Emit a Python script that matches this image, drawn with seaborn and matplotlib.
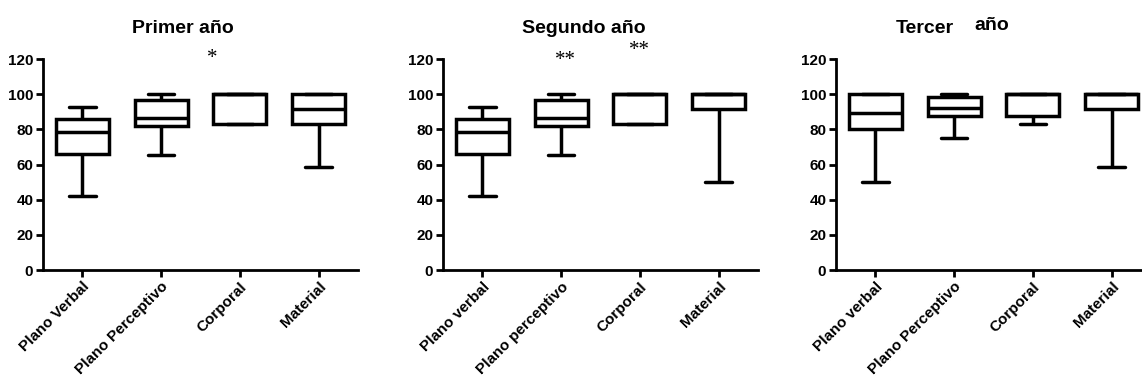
import matplotlib
matplotlib.use("Agg")
import matplotlib.pyplot as plt
import seaborn as sns
import pandas as pd

# Resumen de cinco números por grupo: [mín, Q1, mediana, Q3, máx]
cat_primer = ["Plano Verbal", "Plano Perceptivo", "Corporal", "Material"]
primer_verbal = [42, 66, 78.7, 86, 92.6]
primer_perceptivo = [65.5, 81.8, 86.3, 96.4, 100]
primer_corporal = [83.3, 83.3, 100, 100, 100]
primer_material = [58.3, 83.3, 91.7, 100, 100]

cat_segundo = ["Plano verbal", "Plano perceptivo", "Corporal", "Material"]
segundo_verbal = [42, 66, 78.7, 86, 92.6]
segundo_perceptivo = [65.5, 81.8, 86.3, 96.4, 100]
segundo_corporal = [83.3, 83.3, 100, 100, 100]
segundo_material = [50, 91.7, 100, 100, 100]

cat_tercer = ["Plano verbal", "Plano Perceptivo", "Corporal", "Material"]
tercer_verbal = [50, 80, 89.2, 100, 100]
tercer_perceptivo = [75, 87.5, 92.2, 98.6, 100]
tercer_corporal = [83.3, 87.3, 100, 100, 100]
tercer_material = [58.3, 91.7, 100, 100, 100]

# Asteriscos de significancia: (posición x, valor y, texto)
marcas_primer = [(1.65, 120.5, "*")]
marcas_segundo = [(1.05, 119, "**"), (2.0, 125, "**")]
marcas_tercer = []

sns.set_style("ticks")
plt.rcParams['font.family'] = ['Liberation Sans', 'DejaVu Sans']
plt.rcParams.update({
    "text.color": "black", "axes.edgecolor": "black",
    "xtick.color": "black", "ytick.color": "black",
})

paneles = [
    (cat_primer, [primer_verbal, primer_perceptivo, primer_corporal, primer_material], marcas_primer),
    (cat_segundo, [segundo_verbal, segundo_perceptivo, segundo_corporal, segundo_material], marcas_segundo),
    (cat_tercer, [tercer_verbal, tercer_perceptivo, tercer_corporal, tercer_material], marcas_tercer),
]

fig = plt.figure(figsize=(11.42, 3.81), dpi=100)
W, H = 1142, 381
izquierdas = [43, 443, 836]

for (cats, series, marcas), x0 in zip(paneles, izquierdas):
    ax = fig.add_axes([x0 / W, (H - 270) / H, 315 / W, 211 / H])
    df = pd.DataFrame({
        "categoria": [c for c, s in zip(cats, series) for _ in s],
        "valor": [v for s in series for v in s],
    })
    sns.boxplot(data=df, x="categoria", y="valor", order=cats, ax=ax,
                whis=(0, 100), width=0.67, color="white", saturation=1,
                linecolor="black", linewidth=2.5, showfliers=False)
    ax.set_xlim(-0.5, 3.5)
    ax.set_ylim(0, 120)
    ax.set_yticks(range(0, 121, 20))
    ax.set_xlabel("")
    ax.set_ylabel("")
    sns.despine(ax=ax)
    for s in ["left", "bottom"]:
        ax.spines[s].set_linewidth(2)
    ax.tick_params(direction="out", length=5, width=2, labelsize=11, pad=2)
    for lbl in ax.get_yticklabels():
        lbl.set_fontweight("bold")
    ax.set_xticks(range(len(cats)))
    ax.set_xticklabels(cats, rotation=45, ha="right", rotation_mode="anchor",
                       fontweight="bold", fontsize=11)
    for x, y, t in marcas:
        ax.text(x, y, t, ha="center", va="center", fontsize=15,
                family="Liberation Serif", clip_on=False)

# Títulos
fig.text(183 / W, 1 - 33 / H, "Primer año", ha="center", va="baseline",
         fontsize=14, fontweight="bold")
fig.text(584 / W, 1 - 33 / H, "Segundo año", ha="center", va="baseline",
         fontsize=14, fontweight="bold")
fig.text(925 / W, 1 - 33 / H, "Tercer", ha="center", va="baseline",
         fontsize=14, fontweight="bold")
fig.text(992 / W, 1 - 30 / H, "año", ha="center", va="baseline",
         fontsize=14, fontweight="bold")

fig.savefig("out.png", dpi=100)
